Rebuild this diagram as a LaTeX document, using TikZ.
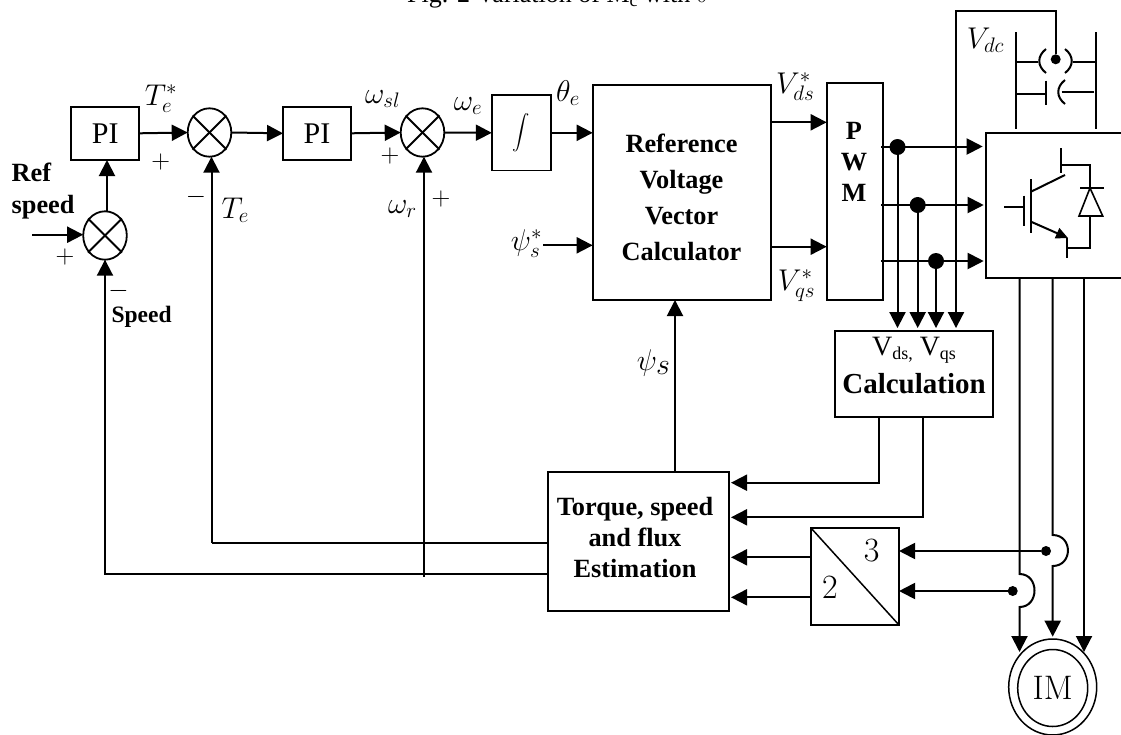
\documentclass[tikz,border=0pt]{standalone}
\usepackage{fix-cm}
\usepackage{exscale}
\usepackage{fontspec}
\newfontfamily\timesfont{Liberation Serif}
\usetikzlibrary{arrows.meta,calc,shapes.geometric}
\def\lowtxt#1{\raisebox{-4pt}{\fontsize{18}{18}\selectfont #1}}
\tikzset{
	wire/.style={line width=2pt},
	flow/.style={line width=2pt, -{Triangle[width=16pt,length=16pt]}},
	box/.style={draw, line width=1.8pt, rectangle, inner sep=0pt, outer sep=0pt},
	summer/.style={draw, line width=1.8pt, ellipse, inner sep=0pt, outer sep=0pt, minimum width=43.6pt, minimum height=48.4pt},
	dot/.style={circle, fill=black, inner sep=0pt, outer sep=0pt, minimum size=#1},
	boldtext/.style={font=\timesfont\bfseries\fontsize{26.3}{36}\selectfont, align=center, inner sep=0pt},
	plaintext/.style={font=\timesfont\fontsize{30}{36}\selectfont, inner sep=0pt},
	cmtext/.style={font=\fontsize{34}{36}\selectfont, inner sep=0pt},
	symb/.style={font=\fontsize{30}{36}\selectfont, inner sep=0pt, anchor=base west},
	sign/.style={font=\fontsize{26}{30}\selectfont, inner sep=0pt}
}
\begin{document}
\begin{tikzpicture}[x=1pt, y=-1pt]
			%%%%% START %%%%%
			\useasboundingbox (0, 0) rectangle (1121, 734);
			
			\node[font=\timesfont\fontsize{26}{30}\selectfont, inner sep=0pt, anchor=base west] (caption) at (407, 2.5) {Fig. 2 Variation of M\lowtxt{c} with $\delta$};
			
			%%%%% blocks %%%%%
			\node[box, minimum width=68pt, minimum height=53pt, plaintext] (pispeed) at (105.3, 133.3) {PI};
			\node[box, minimum width=68pt, minimum height=53pt, plaintext] (pislip) at (317, 133.3) {PI};
			\node[box, minimum width=59pt, minimum height=75.5pt, font=\fontsize{18}{20}\selectfont] (integ) at (521.3, 132.8) {$\displaystyle\int$};
			\node[box, minimum width=178pt, minimum height=215pt] (refcalc) at (681.7, 192.5) {};
			\node[box, minimum width=56.6pt, minimum height=216.7pt] (pwm) at (855, 191.7) {};
			\node[box, minimum width=158.3pt, minimum height=86.3pt] (calc) at (914.2, 374.2) {};
			\node[box, minimum width=181pt, minimum height=139pt] (estim) at (638.5, 541.5) {};
			\node[box, minimum width=88.3pt, minimum height=97.3pt] (conv) at (854.9, 576.4) {};
			\node[box, minimum width=160pt, minimum height=145pt] (inv) at (1065.7, 205.8) {};
			
			\node[summer] (sumref) at (105, 235.5) {};
			\node[summer] (sumt) at (209.5, 132.5) {};
			\node[summer] (sumw) at (422.5, 132.5) {};
			\foreach \sumname in {sumref, sumt, sumw} {
				\draw[line width=1.8pt] ($(\sumname)+(-17, -17)$) -- ($(\sumname)+(17, 17)$);
				\draw[line width=1.8pt] ($(\sumname)+(-17, 17)$) -- ($(\sumname)+(17, -17)$);
			}
			
			\node[draw, line width=1.5pt, ellipse, minimum width=88pt, minimum height=96pt, inner sep=0pt] (imouter) at (1052.7, 687) {};
			\node[draw, line width=1.5pt, ellipse, minimum width=70pt, minimum height=77pt, inner sep=0pt, cmtext] (iminner) at (1052.7, 688) {IM};
			
			%%%%% block texts %%%%%
			\node[boldtext] (reftext) at (681.5, 197.5) {Reference\\Voltage\\Vector\\Calculator};
			\node[boldtext] (pwmtext) at (854, 161.5) {P\\[-5pt]W\\[-5pt]M};
			\node[boldtext] (estimtext) at (635, 537) {Torque, speed\\[-5pt]and flux\\[-5pt]Estimation};
			\node[font=\timesfont\fontsize{28}{30}\selectfont, inner sep=0pt] (vdqtext) at (914, 350) {V\lowtxt{ds,} V\lowtxt{qs}};
			\node[boldtext, font=\timesfont\bfseries\fontsize{29}{30}\selectfont] (calctext) at (914, 384) {Calculation};
			\node[boldtext, align=left, anchor=west] (reftop) at (11.5, 191) {Ref\\[-4pt]speed};
			\node[boldtext, font=\timesfont\bfseries\fontsize{23.5}{30}\selectfont, anchor=west] (speedtext) at (111.4, 317) {Speed};
			
			%%%%% symbols %%%%%
			\node[symb] (tstar) at (144.6, 105) {$T_e^*$};
			\node[symb] (wslip) at (365, 103) {$\omega_{sl}$};
			\node[symb] (wel) at (453.6, 110) {$\omega_e$};
			\node[symb] (thetae) at (556, 101) {$\theta_e$};
			\node[symb] (tfb) at (221.4, 218) {$T_e$};
			\node[symb] (wrot) at (388, 213) {$\omega_r$};
			\node[symb] (psistar) at (510.7, 250) {$\psi_s^*$};
			\node[symb] (vdstar) at (776, 93.3) {$V_{ds}^*$};
			\node[symb] (vqstar) at (777.7, 290) {$V_{qs}^*$};
			\node[symb] (vdc) at (966.7, 48) {$V_{dc}$};
			\node[symb] (psifb) at (636.7, 370) {$\psi_{\textstyle s}$};
			
			\node[sign] (plusa) at (160.7, 161.7) {$+$};
			\node[sign] (minusa) at (196, 196.7) {$-$};
			\node[sign] (plusb) at (390, 155.7) {$+$};
			\node[sign] (plusc) at (441, 199) {$+$};
			\node[sign] (plusd) at (65, 256.7) {$+$};
			\node[sign] (minusb) at (118.6, 291) {$-$};
			
			\node[cmtext] (three) at (871.7, 551) {3};
			\node[cmtext] (two) at (830, 587.7) {2};
			\draw[line width=1.5pt] (conv.north west) -- (conv.south east);
			
			%%%%% forward path %%%%%
			\coordinate (refin) at (32, 234.7);
			\draw[flow] (refin) -- (refin -| sumref.west);
			\draw[flow] (107, 211) -- (107, 160);
			\draw[flow] (pispeed.east) -- (sumt.west);
			\draw[flow] (sumt.east) -- (pislip.west);
			\draw[flow] (pislip.east) -- (sumw.west);
			\draw[flow] (sumw.east) -- (integ.west);
			\draw[flow] (integ.east) -- (refcalc.west |- integ.east);
			\coordinate (psiin) at (543, 245.3);
			\draw[flow] (psiin) -- (psiin -| refcalc.west);
			\coordinate (vdout) at (770.7, 122.3);
			\coordinate (vqout) at (770.7, 246.7);
			\draw[flow] (vdout) -- (vdout -| pwm.west);
			\draw[flow] (vqout) -- (vqout -| pwm.west);
			
			%%%%% gate signals %%%%%
			\coordinate (outa) at (881, 146.5);
			\coordinate (outb) at (881, 205);
			\coordinate (outc) at (881, 261);
			\draw[flow, shorten >=3pt] (outa) -- (outa -| inv.west);
			\draw[flow, shorten >=2pt] (outb) -- (outb -| inv.west);
			\draw[flow, shorten >=2pt] (outc) -- (outc -| inv.west);
			\node[dot=16pt] (dota) at (897.5, 147) {};
			\node[dot=16pt] (dotb) at (917.7, 205) {};
			\node[dot=16pt] (dotc) at (936, 261) {};
			\draw[flow, shorten >=3pt] (dota) -- (dota |- calc.north);
			\draw[flow, shorten >=3pt] (dotb) -- (dotb |- calc.north);
			\draw[flow, shorten >=3pt] (dotc) -- (dotc |- calc.north);
			
			%%%%% dc link %%%%%
			\node[dot=10pt] (dotdc) at (1055.7, 59.3) {};
			\coordinate (dctop) at (956, 11);
			\draw[flow, shorten >=3pt] (dotdc) -- (dotdc |- dctop) -- (dctop) -- (dctop |- calc.north);
			\draw[wire] (1016, 32) -- (1016, 129.3);
			\draw[wire] (1096, 32) -- (1096, 129.3);
			\draw[wire] (1016, 61.7) -- (1038, 61.7);
			\draw[wire] (1073, 61.7) -- (1096, 61.7);
			\draw[wire] (1046, 49) .. controls (1037, 56) and (1037, 66) .. (1046, 73);
			\draw[wire] (1065, 49) .. controls (1074, 56) and (1074, 66) .. (1065, 73);
			\draw[wire] (1016, 94) -- (1046, 94);
			\draw[wire] (1046, 80.7) -- (1046, 104.7);
			\draw[wire] (1065, 80) .. controls (1056, 87) and (1056, 97) .. (1065, 104);
			\draw[wire] (1061.7, 91.7) -- (1094, 91.7);
			
			%%%%% switch %%%%%
			\draw[wire] (1004, 207.3) -- (1024.3, 207.3);
			\draw[wire] (1024.3, 195.7) -- (1024.3, 226);
			\draw[wire] (1030.7, 179) -- (1030.7, 233);
			\draw[wire] (1031, 191.7) -- (1065, 175);
			\draw[wire] (1060.7, 148.3) -- (1060.7, 173.3);
			\draw[wire] (1060.7, 165) -- (1090, 165) -- (1090, 188);
			\draw[line width=1.4pt] (1080, 188) -- (1104, 188);
			\draw[line width=1.6pt] (1090, 188) -- (1079, 216) -- (1102.7, 216) -- cycle;
			\draw[wire] (1090, 216) -- (1090, 248) -- (1067, 248);
			\draw[wire] (1067, 238) -- (1067, 258);
			\draw[wire, -{Triangle[width=11pt,length=12pt]}] (1031, 221.7) -- (1068, 238);
			
			%%%%% motor lines %%%%%
			\coordinate (lega) at (1019.5, 278.3);
			\coordinate (legb) at (1052.7, 278.3);
			\coordinate (legc) at (1084, 278.3);
			\coordinate (motora) at (1019.5, 652);
			\coordinate (motorb) at (1052.7, 636.7);
			\coordinate (motorc) at (1084, 652);
			\draw[flow] (lega) -- (1019.5, 574) .. controls (1039.5, 574) and (1039.5, 607) .. (1019.5, 607) -- (motora);
			\draw[flow] (legb) -- (1052.7, 535) .. controls (1073, 535) and (1073, 566) .. (1052.7, 566) -- (motorb);
			\draw[flow] (legc) -- (motorc);
			
			%%%%% feedback %%%%%
			\node[dot=10pt] (senseb) at (1046, 551) {};
			\node[dot=10pt] (sensea) at (1012.7, 591) {};
			\draw[flow] (senseb) -- (senseb -| conv.east);
			\draw[flow] (sensea) -- (sensea -| conv.east);
			\coordinate (convup) at (810.7, 557.3);
			\coordinate (convlo) at (810.7, 597.3);
			\draw[flow, shorten >=2pt] (convup) -- (convup -| estim.east);
			\draw[flow, shorten >=2pt] (convlo) -- (convlo -| estim.east);
			\coordinate (calcl) at (879.3, 417.3);
			\coordinate (calcr) at (922.7, 417.3);
			\draw[flow, shorten >=2pt] (calcl) -- (879.3, 482.7) -- (estim.east |- 0, 482.7);
			\draw[flow, shorten >=2pt] (calcr) -- (922.7, 517.3) -- (estim.east |- 0, 517.3);
			\coordinate (psiup) at (675, 472);
			\draw[flow] (psiup) -- (psiup |- refcalc.south);
			\coordinate (tecorner) at (211.5, 543);
			\draw[line width=1.5pt] (estim.west |- tecorner) -- (tecorner);
			\draw[flow] (tecorner) -- (tecorner |- sumt.south);
			\coordinate (spcorner) at (105, 574);
			\draw[flow] (estim.west |- spcorner) -- (spcorner) -- (spcorner |- sumref.south);
			\coordinate (wrbottom) at (424, 576.7);
			\draw[flow] (wrbottom) -- (wrbottom |- sumw.south);
			
			%%%%% END %%%%%
		\end{tikzpicture}
\end{document}
